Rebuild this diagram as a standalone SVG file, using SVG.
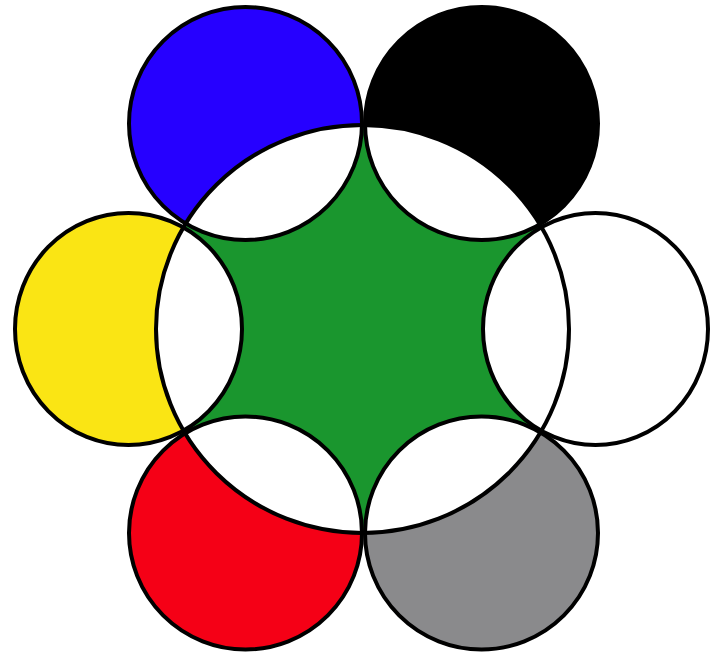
<svg xmlns="http://www.w3.org/2000/svg" width="713" height="655" viewBox="0 0 713 655">
<style>
.l{fill:#fff}
.e{fill:none;stroke:#000;stroke-width:4}
</style>
<defs>
<clipPath id="hubclip"><ellipse cx="362.5" cy="329" rx="206.5" ry="204"/></clipPath>
<mask id="star" maskUnits="userSpaceOnUse" x="0" y="0" width="713" height="655">
<ellipse cx="362.5" cy="329" rx="206.5" ry="204" fill="#fff"/>
<g fill="#000">
<ellipse cx="245.5" cy="123.5" rx="116.5" ry="116.5"/>
<ellipse cx="481.5" cy="123.5" rx="116.5" ry="116.5"/>
<ellipse cx="128.5" cy="329" rx="113.5" ry="116"/>
<ellipse cx="595.5" cy="329" rx="112.5" ry="116"/>
<ellipse cx="245.5" cy="533" rx="116.5" ry="116.5"/>
<ellipse cx="481.5" cy="533" rx="116.5" ry="116.5"/>
</g>
</mask>
</defs>
<g id="blue">
<ellipse cx="245.5" cy="123.5" rx="116.5" ry="116.5" fill="#2600ff"/>
<ellipse class="l" cx="245.5" cy="123.5" rx="116.5" ry="116.5" clip-path="url(#hubclip)"/>
</g>
<g id="black">
<ellipse cx="481.5" cy="123.5" rx="116.5" ry="116.5" fill="#000"/>
<ellipse class="l" cx="481.5" cy="123.5" rx="116.5" ry="116.5" clip-path="url(#hubclip)"/>
</g>
<g id="yellow">
<ellipse cx="128.5" cy="329" rx="113.5" ry="116" fill="#fae514"/>
<ellipse class="l" cx="128.5" cy="329" rx="113.5" ry="116" clip-path="url(#hubclip)"/>
</g>
<g id="white">
<ellipse cx="595.5" cy="329" rx="112.5" ry="116" fill="#fff"/>
</g>
<g id="red">
<ellipse cx="245.5" cy="533" rx="116.5" ry="116.5" fill="#f50016"/>
<ellipse class="l" cx="245.5" cy="533" rx="116.5" ry="116.5" clip-path="url(#hubclip)"/>
</g>
<g id="gray">
<ellipse cx="481.5" cy="533" rx="116.5" ry="116.5" fill="#8a8a8c"/>
<ellipse class="l" cx="481.5" cy="533" rx="116.5" ry="116.5" clip-path="url(#hubclip)"/>
</g>
<g id="hub">
<ellipse cx="362.5" cy="329" rx="206.5" ry="204" fill="#1a962e" mask="url(#star)"/>
</g>
<g id="outlines">
<ellipse class="e" cx="362.5" cy="329" rx="206.5" ry="204"/>
<ellipse class="e" cx="245.5" cy="123.5" rx="116.5" ry="116.5"/>
<ellipse class="e" cx="481.5" cy="123.5" rx="116.5" ry="116.5"/>
<ellipse class="e" cx="128.5" cy="329" rx="113.5" ry="116"/>
<ellipse class="e" cx="595.5" cy="329" rx="112.5" ry="116"/>
<ellipse class="e" cx="245.5" cy="533" rx="116.5" ry="116.5"/>
<ellipse class="e" cx="481.5" cy="533" rx="116.5" ry="116.5"/>
</g>
<g id="connectors"/>
</svg>
